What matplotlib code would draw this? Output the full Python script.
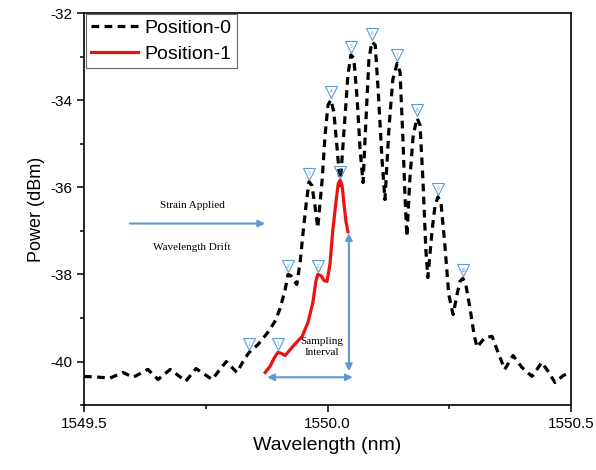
import matplotlib
matplotlib.use("Agg")
import matplotlib.pyplot as plt
from matplotlib.ticker import MultipleLocator

plt.rcParams['font.family'] = ['Liberation Sans', 'DejaVu Sans']
plt.rcParams['axes.unicode_minus'] = False

# Position-0 spectrum (black dashed)
wl0 = [1549.500, 1549.533, 1549.553, 1549.580, 1549.601, 1549.631, 1549.652, 1549.677,
       1549.709, 1549.730, 1549.763, 1549.792, 1549.814, 1549.829, 1549.839, 1549.857,
       1549.876, 1549.892, 1549.902, 1549.913, 1549.919, 1549.925, 1549.937, 1549.944,
       1549.950, 1549.956, 1549.962, 1549.968, 1549.974, 1549.980, 1549.989, 1549.995,
       1550.001, 1550.007, 1550.013, 1550.020, 1550.026, 1550.034, 1550.042, 1550.048,
       1550.054, 1550.061, 1550.067, 1550.073, 1550.079, 1550.085, 1550.091, 1550.098,
       1550.104, 1550.112, 1550.118, 1550.126, 1550.134, 1550.143, 1550.149, 1550.155,
       1550.159, 1550.163, 1550.169, 1550.176, 1550.184, 1550.190, 1550.196, 1550.202,
       1550.206, 1550.215, 1550.221, 1550.227, 1550.233, 1550.241, 1550.249, 1550.258,
       1550.266, 1550.272, 1550.278, 1550.284, 1550.293, 1550.301, 1550.307, 1550.323,
       1550.338, 1550.352, 1550.364, 1550.381, 1550.399, 1550.420, 1550.440, 1550.453,
       1550.467, 1550.484, 1550.500]
p0 = [-40.34, -40.36, -40.38, -40.25, -40.36, -40.18, -40.41, -40.18,
      -40.45, -40.16, -40.41, -40.00, -40.25, -39.95, -39.79, -39.61,
      -39.35, -39.08, -38.80, -38.35, -38.00, -38.03, -38.23, -37.70,
      -37.02, -36.40, -35.87, -35.96, -36.40, -36.93, -35.83, -34.80,
      -34.11, -33.99, -34.27, -35.14, -35.96, -34.68, -33.42, -32.96,
      -33.03, -33.99, -35.14, -35.89, -34.45, -33.08, -32.66, -32.73,
      -33.76, -35.37, -36.28, -34.68, -33.53, -33.15, -33.35, -34.91,
      -36.17, -37.13, -35.83, -34.80, -34.41, -34.57, -35.83, -37.43,
      -38.07, -36.97, -36.40, -36.22, -36.35, -37.32, -38.46, -38.92,
      -38.46, -38.16, -38.09, -38.23, -38.80, -39.38, -39.67, -39.45,
      -39.42, -39.84, -40.18, -39.86, -40.13, -40.34, -40.02, -40.22,
      -40.48, -40.32, -40.25]
peaks0 = [14, 20, 26, 33, 39, 46, 53, 60, 67, 74]

# Position-1 spectrum (red)
wl1 = [1549.872, 1549.882, 1549.890, 1549.898, 1549.905, 1549.913, 1549.929, 1549.948,
       1549.960, 1549.970, 1549.976, 1549.980, 1549.987, 1549.993, 1549.999, 1550.005,
       1550.011, 1550.018, 1550.022, 1550.026, 1550.030, 1550.034, 1550.038, 1550.042]
p1 = [-40.25, -40.11, -39.93, -39.79, -39.81, -39.86, -39.65, -39.42,
      -39.10, -38.64, -38.16, -38.00, -38.03, -38.14, -38.16, -37.77,
      -36.97, -36.28, -35.92, -35.83, -35.96, -36.40, -36.79, -37.02]
peaks1 = [3, 11, 19]

blue = '#5b9bd5'

fig = plt.figure(figsize=(5.96, 4.70), dpi=100)
ax = fig.add_axes([0.141, 0.138, 0.817, 0.834])

ax.plot(wl0, p0, color='black', lw=2.3, dashes=(2.4, 1.7), label='Position-0')
ax.plot(wl1, p1, color='#ee1111', lw=2.3, label='Position-1')

# peak markers with numbers
shift = matplotlib.transforms.ScaledTranslation(0, 8/100, fig.dpi_scale_trans)
for wl, p, idx in [(wl0, p0, peaks0), (wl1, p1, peaks1)]:
    for n, i in enumerate(idx, start=1):
        ax.annotate(str(n), (wl[i], p[i]), xytext=(0, 8), textcoords='offset pixels',
                    ha='center', va='center', fontsize=3.5, color=blue)
        ax.plot([wl[i]], [p[i]], linestyle='none', marker='v', ms=8, mfc='none',
                mec=blue, mew=0.8, transform=ax.transData + shift)

# annotations
serif = ['Liberation Serif', 'DejaVu Serif']
ax.text(1549.722, -36.42, 'Strain Applied', family=serif, fontsize=8, ha='center', va='center')
ax.text(1549.722, -37.38, 'Wavelength Drift', family=serif, fontsize=8, ha='center', va='center')
ax.text(1549.989, -39.67, 'Sampling\nInterval', family=serif, fontsize=8, ha='center', va='center',
        linespacing=1.3)
ax.annotate('', xy=(1549.872, -36.83), xytext=(1549.594, -36.83),
            arrowprops=dict(arrowstyle='-|>', color=blue, lw=1.5, mutation_scale=10,
                            shrinkA=0, shrinkB=0))
ax.annotate('', xy=(1550.044, -37.05), xytext=(1550.044, -40.22),
            arrowprops=dict(arrowstyle='<|-|>', color=blue, lw=1.5, mutation_scale=10,
                            shrinkA=0, shrinkB=0))
ax.annotate('', xy=(1549.876, -40.36), xytext=(1550.052, -40.36),
            arrowprops=dict(arrowstyle='<|-|>', color=blue, lw=1.5, mutation_scale=10,
                            shrinkA=0, shrinkB=0))

ax.set_xlim(1549.5, 1550.5)
ax.set_ylim(-41, -32)
ax.set_xticks([1549.5, 1550.0, 1550.5])
ax.set_xticklabels(['1549.5', '1550.0', '1550.5'])
ax.xaxis.set_minor_locator(MultipleLocator(0.25))
ax.set_yticks([-40, -38, -36, -34, -32])
ax.yaxis.set_minor_locator(MultipleLocator(1))
ax.tick_params(which='both', direction='out', width=1.1, labelsize=11)
ax.tick_params(which='major', length=5)
ax.tick_params(which='minor', length=3)
for s in ax.spines.values():
    s.set_linewidth(1.2)

ax.set_xlabel('Wavelength (nm)', fontsize=14)
ax.set_ylabel('Power (dBm)', fontsize=13)

leg = ax.legend(loc='upper left', bbox_to_anchor=(0.005, 0.997), borderaxespad=0,
                fontsize=14, fancybox=False, edgecolor='#666666', framealpha=1,
                handlelength=2.4, handletextpad=0.35, labelspacing=0.45, borderpad=0.25)
leg.get_frame().set_linewidth(0.8)

fig.savefig('out.png', dpi=100)
